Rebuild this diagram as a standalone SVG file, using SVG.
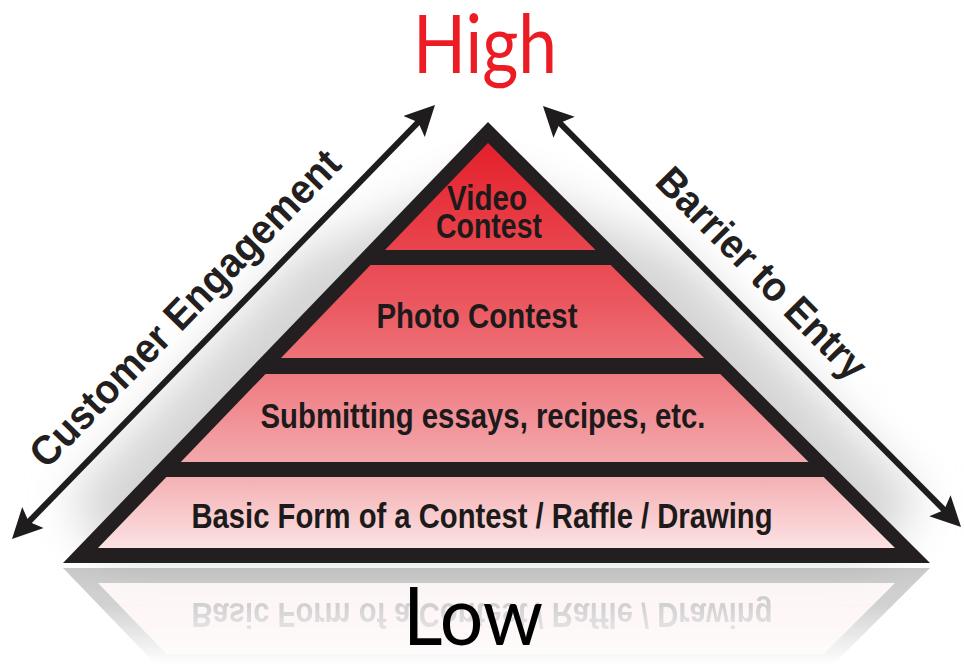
<svg xmlns="http://www.w3.org/2000/svg" width="964" height="672" viewBox="0 0 964 672">
  <defs>
    <style>
      .tierText { font-family: "Liberation Sans", Arial, sans-serif; font-weight: bold; font-size: 35px; fill: #1c1a1a; text-anchor: middle; }
      .axisText { font-family: "Liberation Sans", Arial, sans-serif; font-weight: bold; font-size: 41px; fill: #231f20; text-anchor: middle; }
      .bigText { font-family: Lato, "Open Sans", sans-serif; font-size: 82px; text-anchor: middle; }
      .axis { stroke: #1e1c1c; stroke-width: 6; fill: none; marker-start: url(#head); marker-end: url(#head); }
    </style>
    <linearGradient id="pyrGrad" gradientUnits="userSpaceOnUse" x1="0" y1="143" x2="0" y2="548">
      <stop offset="0" stop-color="#e4202b"/>
      <stop offset="0.4" stop-color="#eb5860"/>
      <stop offset="0.65" stop-color="#f08a90"/>
      <stop offset="0.83" stop-color="#f4b2b5"/>
      <stop offset="1" stop-color="#fce2e3"/>
    </linearGradient>
    <linearGradient id="fadeGrad" gradientUnits="userSpaceOnUse" x1="0" y1="566" x2="0" y2="665">
      <stop offset="0" stop-color="#fff" stop-opacity="0.24"/>
      <stop offset="0.4" stop-color="#fff" stop-opacity="0.2"/>
      <stop offset="1" stop-color="#fff" stop-opacity="0"/>
    </linearGradient>
    <mask id="fadeMask" maskUnits="userSpaceOnUse" x="0" y="0" width="964" height="672">
      <rect x="0" y="566" width="964" height="106" fill="url(#fadeGrad)"/>
    </mask>
    <filter id="soft" x="-30%" y="-30%" width="160%" height="160%">
      <feGaussianBlur stdDeviation="24"/>
    </filter>
    <marker id="head" markerUnits="userSpaceOnUse" markerWidth="32" markerHeight="32" viewBox="0 0 32 32" refX="20" refY="15" orient="auto-start-reverse">
      <path d="M30,15 L0,0 L6,15 L0,30 Z" fill="#1e1c1c"/>
    </marker>
  </defs>

  <rect width="964" height="672" fill="#ffffff"/>

  <!-- soft shadow behind pyramid -->
  <polygon points="488,175 300,255 70,500 110,555 875,555 920,500 680,255" fill="#d4d4d4" filter="url(#soft)"/>

  <!-- reflection -->
  <g id="reflection" mask="url(#fadeMask)">
    <g transform="matrix(1 0 0 -1 0 1131)">
      <polygon points="488,122 63,563 930,563" fill="#231f20"/>
      <polygon points="166.4,477 823.7,477 895,548 98,548" fill="url(#pyrGrad)"/>
      <text class="tierText" x="482" y="528" textLength="581" lengthAdjust="spacingAndGlyphs">Basic Form of a Contest / Raffle / Drawing</text>
    </g>
  </g>

  <!-- pyramid -->
  <g id="pyramid-frame">
    <polygon points="488,122 63,563 930,563" fill="#231f20"/>
  </g>
  <g id="tier-video">
    <polygon points="488,143 595.5,250 385,250" fill="url(#pyrGrad)"/>
    <text class="tierText" x="487" y="210" textLength="80" lengthAdjust="spacingAndGlyphs">Video</text>
    <text class="tierText" x="489" y="238" textLength="106" lengthAdjust="spacingAndGlyphs">Contest</text>
  </g>
  <g id="tier-photo">
    <polygon points="370.5,265 610.6,265 704.1,358 281,358" fill="url(#pyrGrad)"/>
    <text class="tierText" x="477" y="328" textLength="201" lengthAdjust="spacingAndGlyphs">Photo Contest</text>
  </g>
  <g id="tier-submitting">
    <polygon points="265.5,374 720.2,374 808.6,462 180.8,462" fill="url(#pyrGrad)"/>
    <text class="tierText" x="483" y="428" textLength="445" lengthAdjust="spacingAndGlyphs">Submitting essays, recipes, etc.</text>
  </g>
  <g id="tier-basic">
    <polygon points="166.4,477 823.7,477 895,548 98,548" fill="url(#pyrGrad)"/>
    <text class="tierText" x="482" y="528" textLength="581" lengthAdjust="spacingAndGlyphs">Basic Form of a Contest / Raffle / Drawing</text>
  </g>

  <!-- connectors (axes) -->
  <g id="connectors">
    <line class="axis" x1="19" y1="531.8" x2="428" y2="112.2"/>
    <line class="axis" x1="550" y1="113.1" x2="954" y2="519.9"/>
  </g>

  <g id="axis-customer-engagement">
    <text class="axisText" transform="translate(195,318) rotate(-45.7)" textLength="425" lengthAdjust="spacingAndGlyphs">Customer Engagement</text>
  </g>
  <g id="axis-barrier-to-entry">
    <text class="axisText" transform="translate(752,283) rotate(45.3)" textLength="280" lengthAdjust="spacingAndGlyphs">Barrier to Entry</text>
  </g>

  <g id="label-high">
    <text class="bigText" x="485" y="73" fill="#ec1c24" textLength="144" lengthAdjust="spacingAndGlyphs">High</text>
  </g>
  <g id="label-low">
    <text class="bigText" x="473" y="645" fill="#000000" textLength="140" lengthAdjust="spacingAndGlyphs">Low</text>
  </g>
</svg>
